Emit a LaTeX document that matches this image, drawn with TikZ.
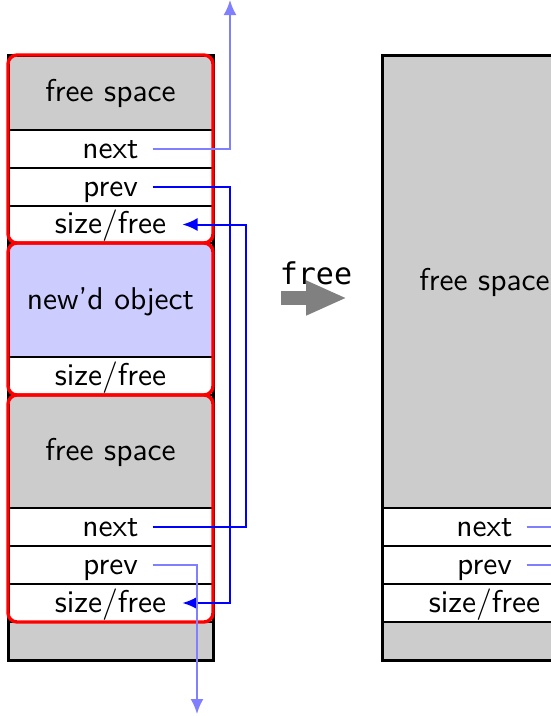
\documentclass[tikz,border=0pt]{standalone}
\usepackage{fontspec}
\newfontfamily\opmono{DejaVu Sans Mono}
\newfontfamily\cellsans[Ligatures=TeX]{lmsans10-regular.otf}
\usetikzlibrary{arrows.meta}
\begin{document}
\begin{tikzpicture}[x=1pt,y=-1pt,
  cell/.style={draw=black, line width=1.6pt, minimum width=205pt, inner sep=0pt, outer sep=0pt,
    font=\fontsize{31.5}{38}\selectfont\cellsans, text height=26pt, text depth=8pt},
  gcell/.style={cell, fill=black!20},
  wcell/.style={cell, fill=white},
  bcell/.style={cell, fill=blue!20},
  outer/.style={draw=black, line width=3pt},
  blk/.style={draw=red, line width=3.4pt, rounded corners=9pt},
  ptr/.style={blue, line width=2pt, -{Latex[length=15pt,width=13pt]}},
  ptrl/.style={blue!50, line width=2pt, -{Latex[length=15pt,width=13pt]}},
  ptrfree/.style={blue!50, line width=2pt},
  oparrow/.style={gray, line width=14pt, -{Triangle[length=41pt,width=32pt]}}
]
\clip (0,0) rectangle (551,716);
% left heap
\node[gcell, minimum height=75pt]  (fs1) at (110.5,92.5) {free space};
\node[wcell, minimum height=38pt]  (nx1) at (110.5,149) {next};
\node[wcell, minimum height=38pt]  (pv1) at (110.5,187) {prev};
\node[wcell, minimum height=37pt]  (sz1) at (110.5,224.5) {size/free};
\node[bcell, minimum height=114pt] (obj) at (110.5,300) {new’d object};
\node[wcell, minimum height=38pt]  (sz2) at (110.5,376) {size/free};
\node[gcell, minimum height=113pt] (fs2) at (110.5,451.5) {free space};
\node[wcell, minimum height=38pt]  (nx2) at (110.5,527) {next};
\node[wcell, minimum height=38pt]  (pv2) at (110.5,565) {prev};
\node[wcell, minimum height=38pt]  (sz3) at (110.5,603) {size/free};
\node[gcell, minimum height=38pt]  (bt1) at (110.5,641) {};
\draw[outer] (fs1.north west) rectangle (bt1.south east);
\draw[blk] (fs1.north west) rectangle (sz1.south east);
\draw[blk] (obj.north west) rectangle (sz2.south east);
\draw[blk] (fs2.north west) rectangle (sz3.south east);
% right heap
\node[gcell, minimum height=453pt] (rfs) at (484.5,281.5) {free space};
\node[wcell, minimum height=38pt]  (rnx) at (484.5,527) {next};
\node[wcell, minimum height=38pt]  (rpv) at (484.5,565) {prev};
\node[wcell, minimum height=38pt]  (rsz) at (484.5,603) {size/free};
\node[gcell, minimum height=38pt]  (rbt) at (484.5,641) {};
\draw[outer] (rfs.north west) rectangle (rbt.south east);
% pointers
\coordinate (busA) at (230,0);
\coordinate (busB) at (246,0);
\coordinate (downend) at (197,714);
\draw[ptrl] ([xshift=42pt]nx1.center) -| (busA);
\draw[ptr] ([xshift=42pt]pv1.center) -| (busA |- sz3.center) -- ([xshift=72pt]sz3.center);
\draw[ptr] ([xshift=42pt]nx2.center) -| (busB |- sz1.center) -- ([xshift=72pt]sz1.center);
\draw[ptrl] ([xshift=42pt]pv2.center) -| (downend);
\coordinate (rout1) at (600,527);
\coordinate (rout2) at (600,565);
\draw[ptrfree] ([xshift=42pt]rnx.center) -- (rout1);
\draw[ptrfree] ([xshift=42pt]rpv.center) -- (rout2);
% free operation
\node[font=\fontsize{30}{36}\selectfont\opmono] (op) at (316,273) {free};
\coordinate (fa) at (281,298);
\coordinate (fb) at (347,298);
\draw[oparrow] (fa) -- (fb);
\end{tikzpicture}
\end{document}
